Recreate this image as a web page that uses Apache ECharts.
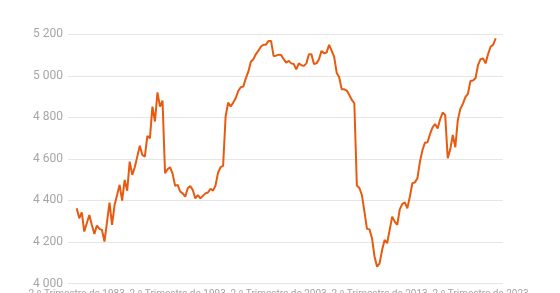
<!DOCTYPE html>
<html>
<head>
<meta charset="utf-8">
<script src="https://cdn.jsdelivr.net/npm/echarts@6/dist/echarts.min.js"></script>
<style>
html,body{margin:0;padding:0;background:#fff;}
#chart{width:560px;height:293px;}
</style>
</head>
<body>
<div id="chart"></div>
<script>
// Quarterly values (thousands), first point = 2.º Trimestre de 1983
const values = [
  4362, 4314, 4343, 4250, 4290, 4330, 4282, 4239, 4279, 4263,
  4258, 4202, 4296, 4390, 4282, 4378, 4426, 4475, 4399, 4499,
  4447, 4587, 4523, 4560, 4611, 4663, 4619, 4611, 4711, 4699,
  4852, 4780, 4920, 4852, 4881, 4531, 4550, 4560, 4528, 4470,
  4475, 4443, 4434, 4418, 4459, 4470, 4450, 4410, 4426, 4410,
  4422, 4434, 4438, 4456, 4447, 4472, 4534, 4560, 4566, 4804,
  4871, 4852, 4871, 4892, 4927, 4945, 4948, 4988, 5020, 5068,
  5080, 5105, 5121, 5141, 5150, 5150, 5168, 5168, 5096, 5097,
  5102, 5100, 5080, 5064, 5072, 5060, 5057, 5031, 5060, 5051,
  5048, 5060, 5104, 5104, 5057, 5060, 5080, 5120, 5109, 5112,
  5149, 5121, 5092, 5015, 4993, 4935, 4935, 4929, 4908, 4884,
  4868, 4472, 4460, 4426, 4346, 4263, 4261, 4218, 4130, 4081,
  4097, 4161, 4210, 4194, 4258, 4322, 4298, 4282, 4357, 4383,
  4391, 4362, 4418, 4483, 4487, 4507, 4587, 4643, 4678, 4680,
  4720, 4752, 4768, 4746, 4791, 4823, 4812, 4603, 4646, 4715,
  4656, 4788, 4840, 4865, 4897, 4913, 4975, 4977, 4988, 5052,
  5080, 5084, 5060, 5105, 5141, 5149, 5181
];
const tickPositions = [0, 40, 80, 120, 160];
const tickLabels = [
  '2.º Trimestre de 1983',
  '2.º Trimestre de 1993',
  '2.º Trimestre de 2003',
  '2.º Trimestre de 2013',
  '2.º Trimestre de 2023'
];
const yTicks = [4000, 4200, 4400, 4600, 4800, 5000, 5200];

const seriesData = values.map((v, i) => [i, v]);

const chart = echarts.init(document.getElementById('chart'), null, {renderer: 'canvas'});
chart.setOption({
  animation: false,
  grid: {left: 68, right: 57, top: 34.3, bottom: 9.5, outerBoundsMode: 'none', containLabel: false},
  xAxis: {
    type: 'value',
    min: -3.45,
    max: 168.9,
    splitLine: {show: false},
    axisLine: {show: false},
    axisTick: {show: false},
    axisLabel: {
      customValues: tickPositions,
      hideOverlap: false,
      formatter: function (v) {
        const k = tickPositions.indexOf(Math.round(v));
        return k >= 0 ? tickLabels[k] : '';
      },
      color: '#a6a6a6',
      fontFamily: 'Roboto',
      fontSize: 10,
      margin: 6
    }
  },
  yAxis: {
    type: 'value',
    min: yTicks[0],
    max: yTicks[yTicks.length - 1],
    interval: 200,
    axisLine: {show: false},
    axisTick: {show: false},
    splitLine: {lineStyle: {color: '#e6e6e6', width: 1}},
    axisLabel: {
      color: '#a6a6a6',
      fontFamily: 'Roboto',
      fontSize: 12,
      margin: 5,
      formatter: function (v) {
        return String(v).replace(/\B(?=(\d{3})+(?!\d))/g, ' ');
      }
    }
  },
  series: [{
    type: 'line',
    data: seriesData,
    showSymbol: false,
    smooth: false,
    lineStyle: {color: '#e75a10', width: 2},
    itemStyle: {color: '#e75a10'}
  }]
});
</script>
</body>
</html>
